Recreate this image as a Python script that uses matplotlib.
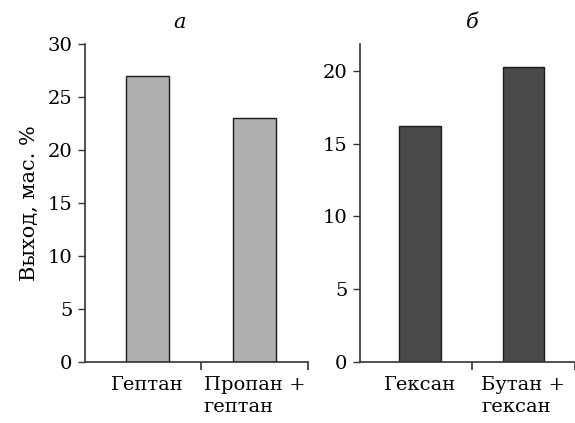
import numpy as np
import matplotlib.pyplot as plt

plt.rcParams['font.family'] = ['DejaVu Serif']

# данные
labels_a = ['Гептан', 'Пропан +\nгептан']
values_a = [27.0, 23.0]
labels_b = ['Гексан', 'Бутан +\nгексан']
values_b = [16.2, 20.3]

fig = plt.figure(figsize=(5.75, 4.23), dpi=100)
ax1 = fig.add_axes([0.148, 0.145, 0.388, 0.750])
ax2 = fig.add_axes([0.626, 0.145, 0.374, 0.750])

def draw(ax, labels, values, color, ylim, xlim, yticks):
    x = np.arange(len(values))
    ax.bar(x, values, width=0.4, color=color, edgecolor='#1a1a1a', linewidth=1.0)
    ax.set_xlim(*xlim)
    ax.set_ylim(*ylim)
    ax.set_yticks(yticks)
    ax.set_xticks(x)
    ax.set_xticklabels(labels, fontsize=14, multialignment='left', linespacing=1.35)
    ax.set_xticks([0.5, 1.5], minor=True)
    ax.tick_params(axis='x', which='major', length=0, pad=10)
    ax.tick_params(axis='x', which='minor', length=6, width=1.2, direction='out', color='#333333')
    ax.tick_params(axis='y', length=5, width=1.0, labelsize=14, pad=4, color='#333333')
    for s in ['top', 'right']:
        ax.spines[s].set_visible(False)
    for s in ['left', 'bottom']:
        ax.spines[s].set_linewidth(1.2)
        ax.spines[s].set_color('#333333')

draw(ax1, labels_a, values_a, '#b0b0b0', (0, 30), (-0.58, 1.5), [0, 5, 10, 15, 20, 25, 30])
draw(ax2, labels_b, values_b, '#4a4a4a', (0, 21.84), (-0.58, 1.43), [0, 5, 10, 15, 20])

ax1.set_ylabel('Выход, мас. %', fontsize=15, labelpad=6)
fig.text(180 / 575, 1 - 23 / 423, 'а', style='italic', fontsize=15, ha='center', va='center')
fig.text(472 / 575, 1 - 23 / 423, 'б', style='italic', fontsize=15, ha='center', va='center')

fig.savefig('out.png', dpi=100)
